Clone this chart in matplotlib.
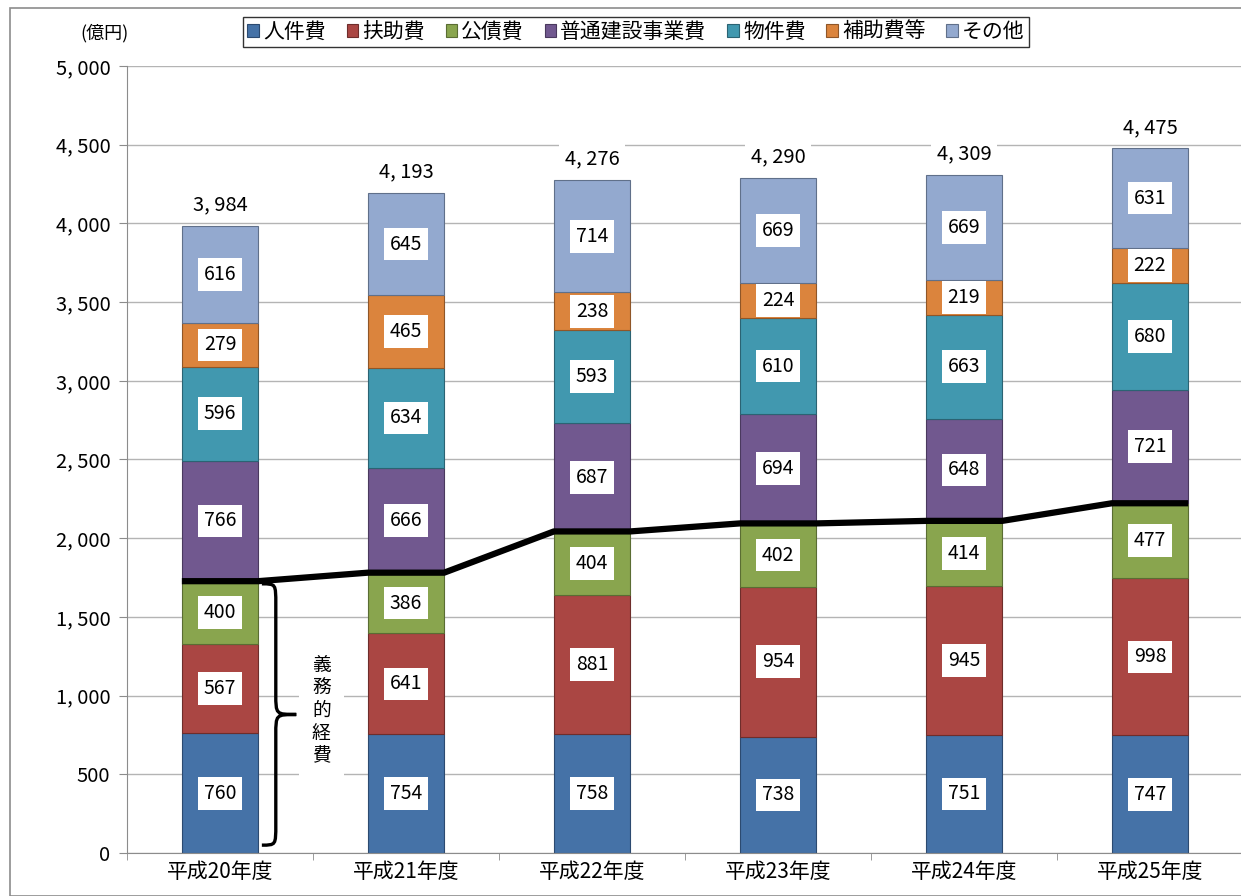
import numpy as np
import matplotlib
matplotlib.use("Agg")
import matplotlib.pyplot as plt
from matplotlib.path import Path
from matplotlib.patches import PathPatch, Rectangle

plt.rcParams['font.family'] = ['Noto Sans CJK JP', 'DejaVu Sans']

years = ['平成20年度', '平成21年度', '平成22年度', '平成23年度', '平成24年度', '平成25年度']
series_names = ['人件費', '扶助費', '公債費', '普通建設事業費', '物件費', '補助費等', 'その他']
jinken = [760, 754, 758, 738, 751, 747]
fujo = [567, 641, 881, 954, 945, 998]
kousai = [400, 386, 404, 402, 414, 477]
futsu = [766, 666, 687, 694, 648, 721]
bukken = [596, 634, 593, 610, 663, 680]
hojo = [279, 465, 238, 224, 219, 222]
sonota = [616, 645, 714, 669, 669, 631]
totals = [3984, 4193, 4276, 4290, 4309, 4475]
colors = ['#4572A7', '#AA4643', '#89A54E', '#71588F', '#4198AF', '#DB843D', '#93A9CF']
edges = ['#2c4a70', '#6e2d2b', '#5a6d33', '#4a395e', '#2b6373', '#8f5628', '#60708a']

data = [jinken, fujo, kousai, futsu, bukken, hojo, sonota]

fig = plt.figure(figsize=(12.41, 8.96), dpi=100)
ax = fig.add_axes([127 / 1241, 1 - 853 / 896, 1116 / 1241, (853 - 66) / 896])

# outer frame of the chart area
fig.patches.append(Rectangle((10 / 1241, 0), 1.2, 1 - 8 / 896, transform=fig.transFigure,
                             fill=False, edgecolor='#8c8c8c', lw=1.2))

x = np.arange(len(years))
w = 0.41
bottom = np.zeros(len(years))
for name, vals, c, ec in zip(series_names, data, colors, edges):
    vals = np.array(vals)
    ax.bar(x, vals, w, bottom=bottom, color=c, edgecolor=ec, lw=0.8, label=name, zorder=2)
    for xi, b, v in zip(x, bottom, vals):
        ax.text(xi, b + v / 2, str(v), ha='center', va='center', fontsize=14, zorder=4,
                bbox=dict(boxstyle='square,pad=0.3', fc='white', ec='none'))
    bottom += vals

for xi, t in zip(x, totals):
    ax.text(xi, t + 135, f"{t:,}".replace(",", ", "), ha='center', va='center', fontsize=14.5,
            zorder=4, bbox=dict(boxstyle='square,pad=0.3', fc='white', ec='none'))

# 義務的経費 series line
gimu = np.array(jinken) + np.array(fujo) + np.array(kousai)
lx, ly = [], []
for xi, g in zip(x, gimu):
    lx += [xi - w / 2, xi + w / 2]
    ly += [g, g]
ax.plot(lx, ly, color='black', lw=4.5, zorder=3, solid_capstyle='butt')

# brace
xa, xb, xc = 0.225, 0.30, 0.41
top, bot = 1710, 50
mid = (top + bot) / 2
r = 130
verts = [(xa, top), (xb, top), (xb, top), (xb, top - r),
         (xb, mid + r),
         (xb, mid), (xb, mid), (xc, mid),
         (xb, mid), (xb, mid), (xb, mid - r),
         (xb, bot + r),
         (xb, bot), (xb, bot), (xa, bot)]
codes = [Path.MOVETO, Path.CURVE4, Path.CURVE4, Path.CURVE4,
         Path.LINETO,
         Path.CURVE4, Path.CURVE4, Path.CURVE4,
         Path.CURVE4, Path.CURVE4, Path.CURVE4,
         Path.LINETO,
         Path.CURVE4, Path.CURVE4, Path.CURVE4]
ax.add_patch(PathPatch(Path(verts, codes), fill=False, lw=2.4, ec='black', zorder=3))
ax.text(0.545, 905, '義\n務\n的\n経\n費', ha='center', va='center', fontsize=13.5,
        linespacing=1.1, zorder=4,
        bbox=dict(boxstyle='square,pad=0.7', fc='white', ec='none'))

ax.set_xlim(-0.5, 5.5)
ax.set_ylim(0, 5000)
ax.set_yticks(np.arange(0, 5001, 500))
ax.set_yticklabels([f"{v:,}".replace(",", ", ") for v in range(0, 5001, 500)], fontsize=14.5)
ax.set_xticks(x)
ax.set_xticklabels(years, fontsize=15)
ax.set_xticks(np.arange(-0.5, 5.6, 1), minor=True)
ax.tick_params(axis='x', which='major', length=0, pad=6)
ax.tick_params(axis='x', which='minor', length=5, color='#8c8c8c')
ax.tick_params(axis='y', length=6, color='#8c8c8c', pad=6)
ax.yaxis.grid(True, color='#b4b4b4', lw=1)
ax.set_axisbelow(True)
for s in ['top', 'right']:
    ax.spines[s].set_visible(False)
for s in ['left', 'bottom']:
    ax.spines[s].set_color('#8c8c8c')

fig.text(105 / 1241, 1 - 33 / 896, '(億円)', ha='center', va='center', fontsize=13)

leg = fig.legend(loc='center', bbox_to_anchor=(636 / 1241, 1 - 32 / 896), ncol=7,
                 fontsize=15, handlelength=0.55, handleheight=0.55, handletextpad=0.2,
                 columnspacing=1.0, frameon=True, fancybox=False, borderpad=0.2)
leg.get_frame().set_edgecolor('black')
leg.get_frame().set_linewidth(1)

fig.savefig('out.png', dpi=100)
